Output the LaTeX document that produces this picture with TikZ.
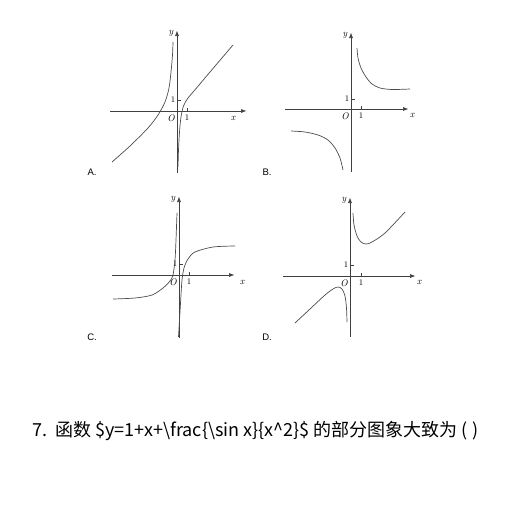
\documentclass[tikz,border=0pt]{standalone}
\usepackage{fontspec}
\setsansfont{Liberation Sans}
\newfontfamily\cjk{Noto Sans CJK SC}
\usetikzlibrary{arrows.meta}
\tikzset{
	axis/.style={-{Triangle[length=5pt,width=3.6pt]}, draw=black!75, line width=0.6pt},
	curve/.style={draw=black!70, line width=0.7pt},
	lbl/.style={font=\fontsize{9.5}{9.5}\selectfont\itshape, inner sep=0pt},
	one/.style={font=\fontsize{8.5}{8.5}\selectfont, inner sep=0pt},
	opt/.style={font=\sffamily\fontsize{9.5}{9.5}\selectfont, inner sep=0pt},
}
\begin{document}
\begin{tikzpicture}[x=1pt, y=-1pt]
	\useasboundingbox (0,0) rectangle (512,512);

	% axes: name / origin / x from..to / y from..to / tick x / tick y
	\foreach \n / \ox / \oy / \xl / \xr / \yt / \yb / \tx / \ty in {
		A/177/111/110/246/31/173/187/100,
		B/351/109/285/408/33/172/361/99,
		C/179/275/112/234/197/338/189/264,
		D/350/276/283/415/198/337/361/265} {
		\coordinate (\n O) at (\ox,\oy);
		\draw[axis] (\xl,\oy) -- (\xr,\oy);
		\draw[axis] (\ox,\yb) -- (\ox,\yt);
		\draw[black!75, line width=0.5pt] (\tx,\oy) -- (\tx,\oy-3);
		\draw[black!75, line width=0.5pt] (\ox,\ty) -- (\ox+4,\ty);
		\node[one] (\n one x) at (\tx,\oy+7) {1};
		\node[one] (\n one y) at (\ox-4,\ty) {1};
		\node[lbl] (\n o) at (\ox-6,\oy+7) {O};
		\node[lbl] (\n y) at (\ox-6,\yt+2) {y};
	}

	\node[lbl] (A x) at (233,118) {x};
	\node[lbl] (B x) at (412,115) {x};
	\node[lbl] (C x) at (242,282) {x};
	\node[lbl] (D x) at (419,282) {x};

	\node[opt] (A) at (92,172) {A.};
	\node[opt] (B) at (267,172) {B.};
	\node[opt] (C) at (92,337) {C.};
	\node[opt] (D) at (267,337) {D.};

	% A
	\draw[curve] plot[smooth] coordinates {(112,162) (130,146) (148,128) (158,115) (165,102) (169,88) (171,72) (172.5,55) (173,42)};
	\draw[curve] plot[smooth] coordinates {(178,167) (178.5,150) (179.5,132) (181,117) (183.5,106) (188,98) (195,89.8) (210,72) (233,45)};
	% B
	\draw[curve] plot[smooth] coordinates {(357,48) (358,58) (361,68) (366,77) (372,84) (380,88) (392,89.5) (410,89)};
	\draw[curve] plot[smooth] coordinates {(291,131) (305,132) (318,135) (328,140) (335,148) (340,158) (343,170)};
	% C
	\draw[curve] plot[smooth] coordinates {(113,299) (135,298) (152,295) (163,288) (170,281) (173,275) (175,260) (176,240) (177,213)};
	\draw[curve] plot[smooth] coordinates {(178.5,337) (179.5,320) (181,295) (182,280) (184,268) (188,259) (195,252) (213,247) (235,246)};
	% D
	\draw[curve] plot[smooth] coordinates {(353,213) (354,225) (357,236) (361,242) (366,244) (372,242) (385,233) (405,212)};
	\draw[curve] plot[smooth] coordinates {(295,323) (310,309) (325,295) (333,289) (338,287) (342,289) (345,296) (346.5,308) (347,322)};

	\node[font=\cjk\fontsize{18}{18}\selectfont, inner sep=0pt] (q) at (255.5,431)
		{7.\hspace{0.4em}函数 \$y=1+x+\textbackslash frac\{\textbackslash sin x\}\{x\textasciicircum 2\}\$ 的部分图象大致为 ( )};
\end{tikzpicture}
\end{document}
